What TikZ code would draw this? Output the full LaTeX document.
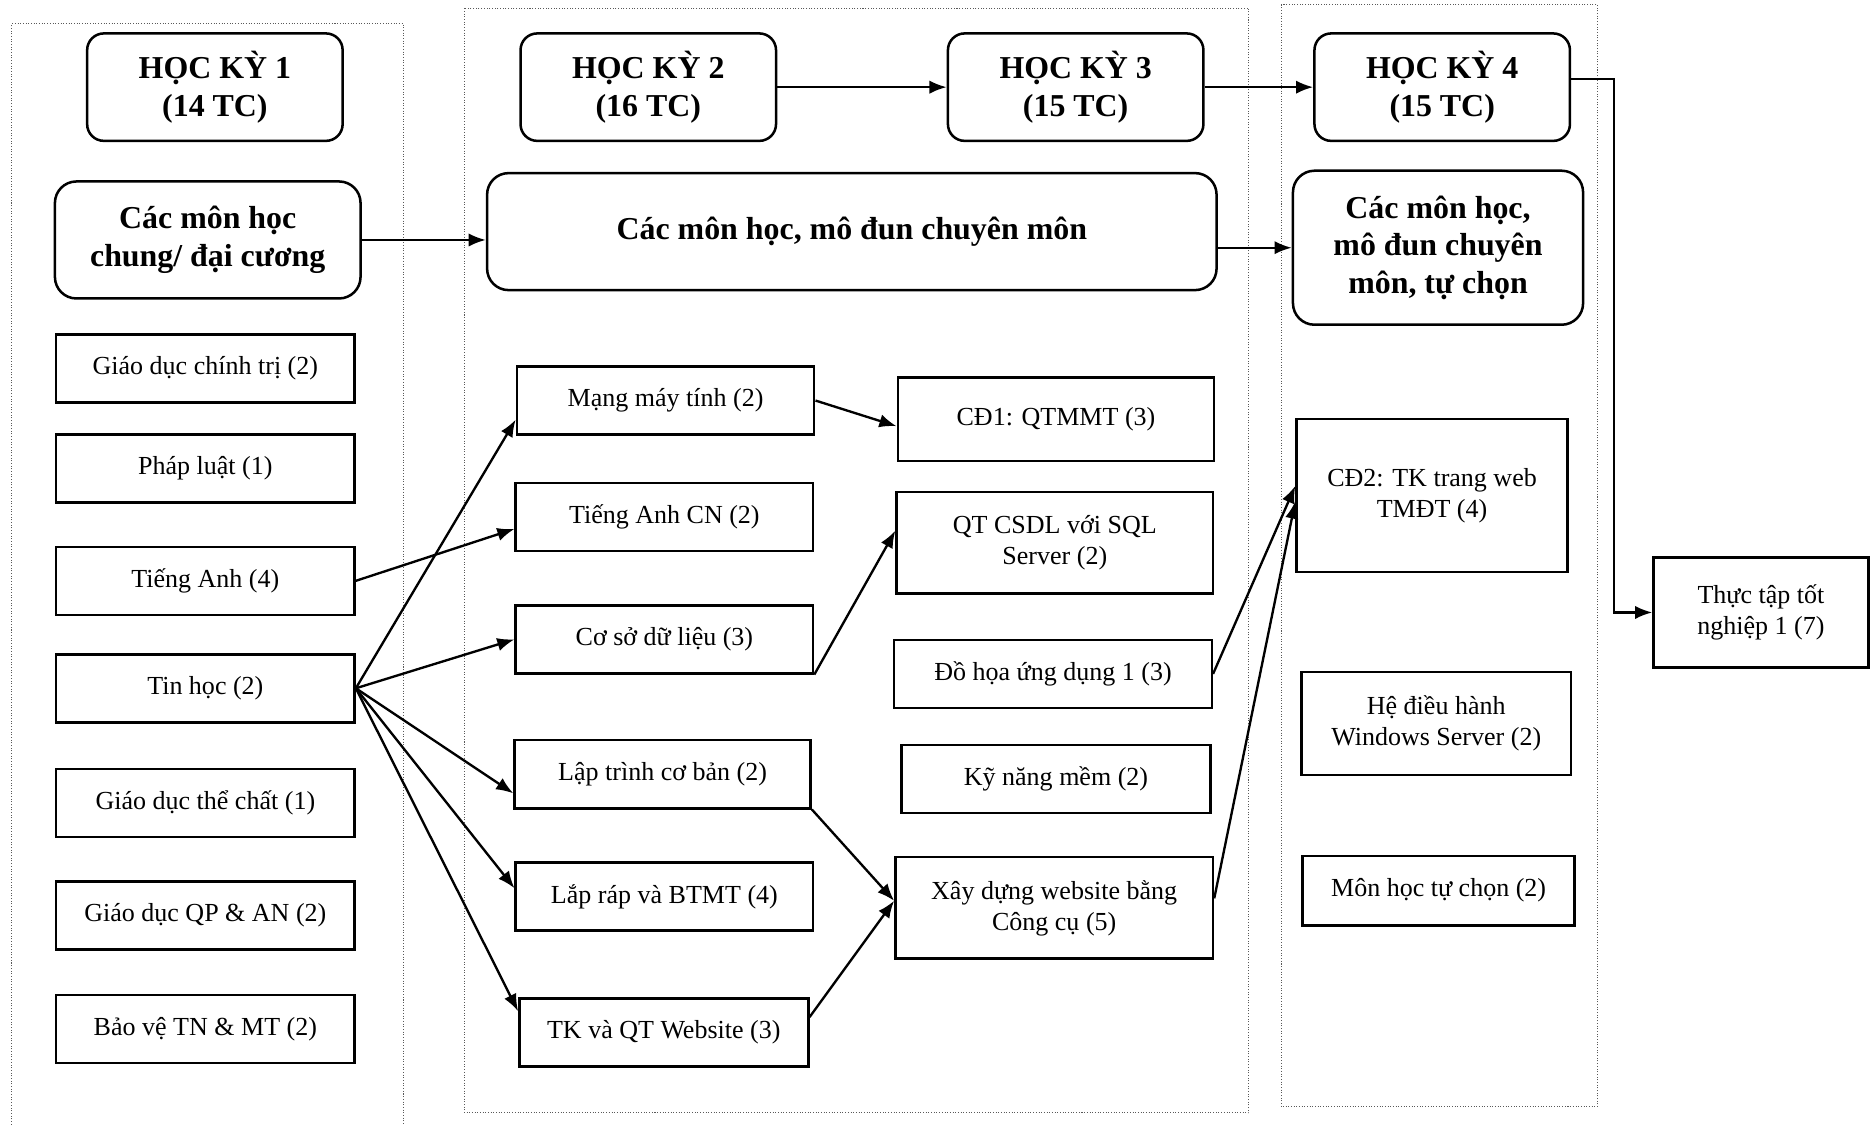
\documentclass[tikz,border=0pt]{standalone}
\usepackage{fontspec}
\setmainfont{Liberation Serif}
\usetikzlibrary{arrows.meta,positioning}
\tikzset{
	hocky/.style={draw,line width=1.5pt,rounded corners=3.5mm,align=center,
		font=\fontsize{19}{22.5}\selectfont\bfseries,minimum width=53.5mm,minimum height=22.5mm},
	nhom/.style={draw,line width=1.5pt,rounded corners=4.5mm,align=center,
		font=\fontsize{19}{22.5}\selectfont\bfseries,minimum height=24.5mm},
	mon/.style={draw,line width=1.5pt,align=center,
		font=\fontsize{15.5}{18.5}\selectfont,minimum height=14.25mm},
	khung/.style={densely dotted,gray!70!black,line width=0.6pt},
	mui/.style={-{Latex[length=3.6mm,width=2.8mm]},line width=1.4pt}
}

\begin{document}
\begin{tikzpicture}[x=0.25mm,y=-0.25mm]
	\useasboundingbox (0,0) rectangle (1568,942);
	% khung cac hoc ky
	\draw[khung] (10,942) |- (338,20) -- (338,942);
	\draw[khung] (389,7) rectangle (1046,932);
	\draw[khung] (1073,4) rectangle (1338,927);
	% hoc ky
	\node[hocky] (hk1) at (180,73) {HỌC KỲ 1\\(14 TC)};
	\node[hocky] (hk2) at (543,73) {HỌC KỲ 2\\(16 TC)};
	\node[hocky] (hk3) at (901,73) {HỌC KỲ 3\\(15 TC)};
	\node[hocky] (hk4) at (1208,73) {HỌC KỲ 4\\(15 TC)};
	\node[nhom,minimum width=64mm] (chung) at (174,201) {Các môn học\\chung/ đại cương};
	\node[nhom,minimum width=152.75mm] (cm) at (713.5,194) {Các môn học, mô đun chuyên môn};
	\node[nhom,minimum width=60.75mm,minimum height=32.25mm] (tc) at (1204.5,207.5) {Các môn học,\\mô đun chuyên\\môn, tự chọn};
	% hoc ky 1
	\node[mon,minimum width=62.5mm] (gdct) at (172,308.5) {Giáo dục chính trị (2)};
	\node[mon,minimum width=62.5mm] (pl) at (172,392.5) {Pháp luật (1)};
	\node[mon,minimum width=62.5mm] (ta) at (172,486.5) {Tiếng Anh (4)};
	\node[mon,minimum width=62.5mm] (th) at (172,576.5) {Tin học (2)};
	\node[mon,minimum width=62.5mm] (gdtc) at (172,672.5) {Giáo dục thể chất (1)};
	\node[mon,minimum width=62.5mm] (qp) at (172,767) {Giáo dục QP \& AN (2)};
	\node[mon,minimum width=62.5mm] (bv) at (172,862) {Bảo vệ TN \& MT (2)};
	% hoc ky 2
	\node[mon,minimum width=62.25mm] (mmt) at (557.5,335.5) {Mạng máy tính (2)};
	\node[mon,minimum width=62.25mm] (tacn) at (556.5,433) {Tiếng Anh CN (2)};
	\node[mon,minimum width=62.25mm] (csdl) at (556.5,535.5) {Cơ sở dữ liệu (3)};
	\node[mon,minimum width=62mm] (ltcb) at (555,648.5) {Lập trình cơ bản (2)};
	\node[mon,minimum width=62.25mm] (lr) at (556.5,751) {Lắp ráp và BTMT (4)};
	\node[mon,minimum width=60.5mm] (tkqt) at (556,865) {TK và QT Website (3)};
	% hoc ky 3
	\node[mon,minimum width=66.25mm,minimum height=17.5mm] (cd1) at (884.5,351) {CĐ1: QTMMT (3)};
	\node[mon,minimum width=66.25mm,minimum height=21.25mm] (qt) at (883.5,454.5) {QT CSDL với SQL\\Server (2)};
	\node[mon,minimum width=66.5mm] (dh) at (882,564.5) {Đồ họa ứng dụng 1 (3)};
	\node[mon,minimum width=64.75mm] (kn) at (884.5,652.5) {Kỹ năng mềm (2)};
	\node[mon,minimum width=66.5mm,minimum height=21.25mm] (xd) at (883,760.5) {Xây dựng website bằng\\Công cụ (5)};
	% hoc ky 4
	\node[mon,minimum width=56.75mm,minimum height=32mm] (cd2) at (1199.5,415) {CĐ2: TK trang web\\TMĐT (4)};
	\node[mon,minimum width=56.5mm,minimum height=21.5mm] (hdh) at (1203,606) {Hệ điều hành\\Windows Server (2)};
	\node[mon,minimum width=57mm,minimum height=14.5mm] (mtc) at (1205,746) {Môn học tự chọn (2)};
	\node[mon,minimum width=45mm,minimum height=23mm] (tt) at (1475,513) {Thực tập tốt\\nghiệp 1 (7)};
	% mui ten
	\draw[mui] (hk2.east) -- (hk3.west);
	\draw[mui] (hk3.east) -- (hk4.west);
	\draw[mui] ([yshift=1.75mm]hk4.east) -- ++(9mm,0) |- (tt.west);
	\draw[mui] (chung.east) -- (chung.east -| cm.west);
	\draw[mui] (tc.west -| cm.east) -- (tc.west);
	\draw[mui] (ta.east) -- ([yshift=-2.5mm]tacn.west);
	\draw[mui] (th.east) -- ([yshift=-4mm]mmt.west);
	\draw[mui] (th.east) -- (csdl.west);
	\draw[mui] (th.east) -- ([yshift=-4mm]ltcb.west);
	\draw[mui] (th.east) -- ([yshift=1.75mm]lr.west);
	\draw[mui] (th.east) -- ([yshift=4.5mm]tkqt.west);
	\draw[mui] (mmt.east) -- ([yshift=-1.5mm]cd1.west);
	\draw[mui] (csdl.south east) -- ([yshift=2.5mm]qt.west);
	\draw[mui] (ltcb.south east) -- ([yshift=1.5mm]xd.west);
	\draw[mui] ([yshift=3.25mm]tkqt.east) -- ([yshift=1.5mm]xd.west);
	\draw[mui] (dh.east) -- ([yshift=2mm]cd2.west);
	\draw[mui] ([yshift=2mm]xd.east) -- ([yshift=-1.25mm]cd2.west);
\end{tikzpicture}
\end{document}
